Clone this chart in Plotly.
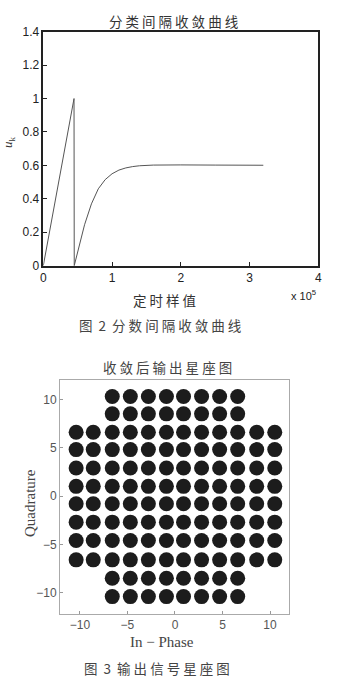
import plotly.graph_objects as go

# ---- data: convergence curve (x in units of 1e5 samples) ----
curve_x = [0, 0.447, 0.45, 0.5, 0.55, 0.6, 0.7, 0.8, 0.9, 1.0, 1.1, 1.2, 1.3, 1.4, 1.6, 1.8, 2.0, 2.5, 3.0, 3.2]
curve_y = [0, 1.0, 0.0, 0.085, 0.165, 0.245, 0.37, 0.46, 0.515, 0.55, 0.572, 0.585, 0.593, 0.598, 0.602, 0.603, 0.603, 0.602, 0.601, 0.601]

# ---- data: 128-QAM constellation levels (cross shape) ----
levels_i = [-10.4, -8.6, -6.6, -4.7, -2.8, -0.9, 0.9, 2.8, 4.7, 6.6, 8.6, 10.5]
levels_q = [10.3, 8.5, 6.6, 4.8, 2.9, 1.0, -0.8, -2.7, -4.6, -6.6, -8.5, -10.4]
outer_rows = [10.3, 8.5, -8.5, -10.4]
outer_cols = [-10.4, -8.6, 8.6, 10.5]

pts_i, pts_q = [], []
for q in levels_q:
    for i in levels_i:
        if q in outer_rows and i in outer_cols:
            continue
        pts_i.append(i)
        pts_q.append(q)

W, H = 341, 680
def px(x): return x / W
def py(y): return 1 - y / H

fig = go.Figure()
fig.add_trace(go.Scatter(x=curve_x, y=curve_y, mode="lines",
                         line=dict(color="#555555", width=1),
                         xaxis="x", yaxis="y", showlegend=False))
fig.add_trace(go.Scatter(x=pts_i, y=pts_q, mode="markers",
                         marker=dict(size=15, color="#1c1c1c", line=dict(width=0)),
                         xaxis="x2", yaxis="y2", showlegend=False))

tickfont1 = dict(family="Liberation Sans, Arial", size=12, color="#222")
tickfont2 = dict(family="Liberation Sans, Arial", size=12, color="#555")

fig.update_layout(
    template="none",
    width=W, height=H,
    margin=dict(l=0, r=0, t=0, b=0, autoexpand=False),
    paper_bgcolor="white", plot_bgcolor="white",
    xaxis=dict(domain=[px(43.3), px(318.3)], anchor="y", range=[0, 4], automargin=False,
               tickvals=[0, 1, 2, 3, 4], ticks="inside", ticklen=4, tickcolor="#222",
               showline=True, linecolor="#222", linewidth=1.5, mirror=True,
               showgrid=False, zeroline=False, tickfont=tickfont1),
    yaxis=dict(domain=[py(265.7), py(31.7)], anchor="x", range=[0, 1.4], automargin=False,
               tickvals=[0, 0.2, 0.4, 0.6, 0.8, 1.0, 1.2, 1.4], ticks="inside", ticklen=4, tickcolor="#222",
               showline=True, linecolor="#222", linewidth=1.5, mirror=True,
               showgrid=False, zeroline=False, tickfont=tickfont1),
    xaxis2=dict(domain=[px(60), px(289)], anchor="y2", range=[-12.1, 12.0], automargin=False,
                tickvals=[-10, -5, 0, 5, 10], ticks="inside", ticklen=3, tickcolor="#999",
                showline=True, linecolor="#aaa", linewidth=1, mirror=True,
                showgrid=False, zeroline=False, tickfont=tickfont2),
    yaxis2=dict(domain=[py(614), py(380)], anchor="x2", range=[-12.2, 12.0], automargin=False,
                tickvals=[-10, -5, 0, 5, 10], ticks="inside", ticklen=3, tickcolor="#999",
                showline=True, linecolor="#aaa", linewidth=1, mirror=True,
                showgrid=False, zeroline=False, tickfont=tickfont2),
)

cjk = "Noto Sans CJK SC"
def spaced(s): return " ".join(list(s))

anns = [
    dict(text=spaced("分类间隔收敛曲线"), x=px(173.5), y=py(21), size=13.5, fam=cjk, col="#333"),
    dict(text=spaced("定时样值"), x=px(164), y=py(300), size=13.5, fam=cjk, col="#333"),
    dict(text="x 10<sup>5</sup>", x=px(303), y=py(295), size=11, fam="Liberation Sans, Arial", col="#222"),
    dict(text="图  2  " + spaced("分数间隔收敛曲线"), x=px(160), y=py(325), size=13.5, fam=cjk, col="#444"),
    dict(text=spaced("收敛后输出星座图"), x=px(167), y=py(367), size=13.5, fam=cjk, col="#444"),
    dict(text="In \u2212 Phase", x=px(162), y=py(642), size=15, fam="Liberation Serif, Times New Roman", col="#444"),
    dict(text="图  3  " + spaced("输出信号星座图"), x=px(157), y=py(668), size=13.5, fam=cjk, col="#444"),
]
for a in anns:
    fig.add_annotation(text=a["text"], x=a["x"], y=a["y"], xref="paper", yref="paper",
                       xanchor="center", yanchor="middle", showarrow=False,
                       font=dict(family=a["fam"], size=a["size"], color=a["col"]))

fig.add_annotation(text="<i>u</i><sub>k</sub>", x=px(8), y=py(142), xref="paper", yref="paper",
                   xanchor="center", yanchor="middle", showarrow=False, textangle=-90,
                   font=dict(family="Liberation Serif, Times New Roman", size=13, color="#333"))
fig.add_annotation(text="Quadrature", x=px(30), y=py(503), xref="paper", yref="paper",
                   xanchor="center", yanchor="middle", showarrow=False, textangle=-90,
                   font=dict(family="Liberation Serif, Times New Roman", size=15, color="#444"))

fig.write_html("out.html")
